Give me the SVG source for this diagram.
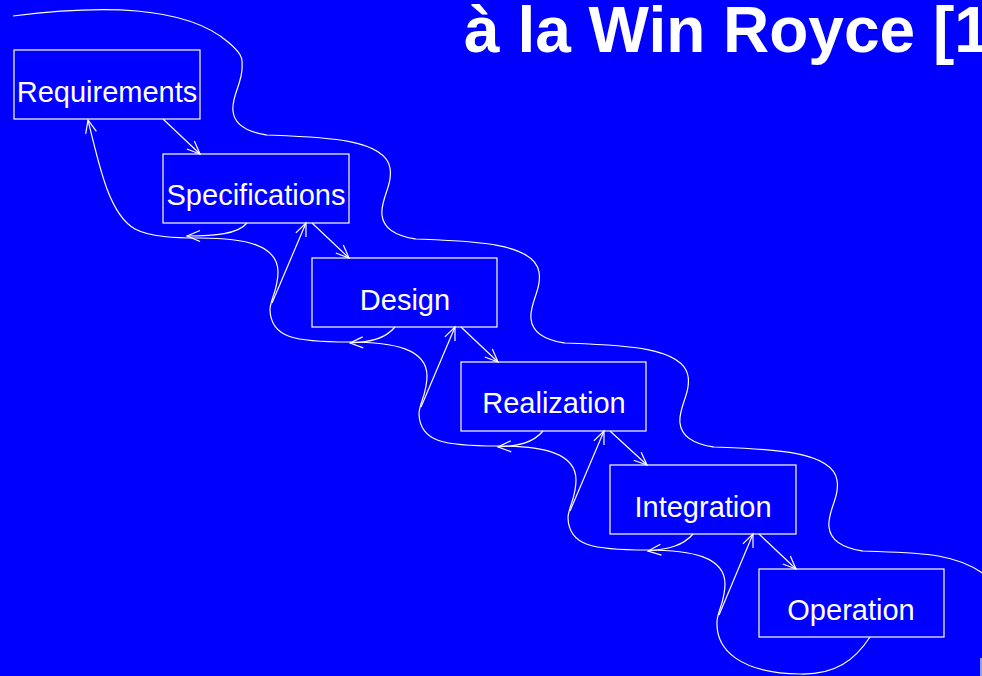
<svg xmlns="http://www.w3.org/2000/svg" width="982" height="676" viewBox="0 0 982 676">
<defs>
<marker id="ah" markerUnits="userSpaceOnUse" markerWidth="30" markerHeight="30" viewBox="-15 -15 30 30" refX="0" refY="0" orient="auto-start-reverse">
<path d="M-13,-5.5 L0,0 L-13,5.5" fill="none" stroke="#fff" stroke-width="1.2"/>
</marker>
</defs>
<style>
.box{fill:none;stroke:#fff;stroke-width:1.2}
.lbl{font-family:"Liberation Sans",Arial,sans-serif;font-size:29px;fill:#fff;text-anchor:middle}
.ln{fill:none;stroke:#fff;stroke-width:1.2}
.arr{fill:none;stroke:#fff;stroke-width:1.2;marker-end:url(#ah)}
.title{font-family:"Liberation Sans",Arial,sans-serif;font-size:64px;font-weight:bold;fill:#fff}
</style>
<rect x="0" y="0" width="982" height="676" fill="#0000ff"/>
<text class="title" x="464" y="52">à la Win Royce [1</text>
<g id="connectors">
<path class="ln" d="M13,16 C100,5 185,5 228,42 C240,52 243,58 242,64 C244,81 231,96 233,111 C235,131 261,134 267,135 c53,2 118,3 123,33 c3,17 -10,32 -8,47 c2,20 28,23 34,24 c53,2 118,3 123,33 c3,17 -10,32 -8,47 c2,20 28,23 34,24 c53,2 118,3 123,33 c3,17 -10,32 -8,47 c2,20 28,23 34,24 c53,2 118,3 123,33 c3,17 -10,32 -8,47 c2,20 28,23 34,24 C916,553 955,552 985,575"/>
<path class="ln" style="marker-start:url(#ah)" d="M88,120 C100,170 110,215 135,229 C150,237 175,238 200,238 c45,0 78,7 78,34 c0,18 -8,28 -8,38 c1,28 25,32 79,32 c45,0 78,7 78,34 c0,18 -8,28 -8,38 c1,28 25,32 79,32 c45,0 78,7 78,34 c0,18 -8,28 -8,38 c1,28 25,32 79,32 c45,0 78,7 78,34 c0,18 -8,28 -8,38 C716,650 740,673 800,674 C835,675 855,660 870,637"/>
<path class="arr" d="M163,119 L200,154"/>
<path class="arr" d="M312,223 L349,258"/>
<path class="arr" d="M461,327 L498,362"/>
<path class="arr" d="M610,431 L647,465"/>
<path class="arr" d="M759,534 L796,569"/>
<path class="arr" d="M272,303 L306,223"/>
<path class="arr" d="M421,407 L455,327"/>
<path class="arr" d="M570,511 L604,431"/>
<path class="arr" d="M719,615 L753,534"/>
<path class="arr" d="M247,223 C238,234 215,236 187,236"/>
<path class="arr" d="M395,327 C385,339 370,342 350,343"/>
<path class="arr" d="M543,431 C533,443 518,446 498,447"/>
<path class="arr" d="M693,534 C683,546 668,549 648,551"/>
<path class="ln" d="M981,658 L981,676"/>
</g>
<g id="requirements"><rect class="box" x="14" y="50" width="186" height="69"/><text class="lbl" x="107" y="102">Requirements</text></g>
<g id="specifications"><rect class="box" x="163" y="154" width="186" height="69"/><text class="lbl" x="256" y="205">Specifications</text></g>
<g id="design"><rect class="box" x="312" y="258" width="185" height="69"/><text class="lbl" x="405" y="310">Design</text></g>
<g id="realization"><rect class="box" x="461" y="362" width="185" height="69"/><text class="lbl" x="554" y="413">Realization</text></g>
<g id="integration"><rect class="box" x="610" y="465" width="186" height="69"/><text class="lbl" x="703" y="517">Integration</text></g>
<g id="operation"><rect class="box" x="759" y="569" width="185" height="68"/><text class="lbl" x="851" y="620">Operation</text></g>
</svg>
